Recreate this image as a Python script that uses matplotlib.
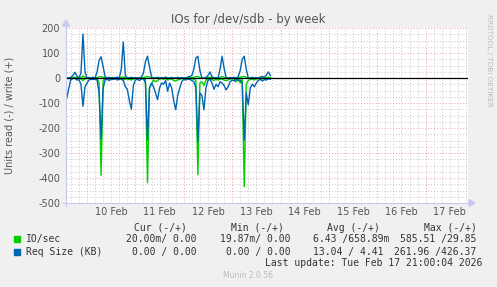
import numpy as np
import pandas as pd
import matplotlib
matplotlib.use("Agg")
import matplotlib.pyplot as plt
import matplotlib.dates as mdates
from matplotlib.lines import Line2D
from matplotlib.patches import Polygon, Rectangle
from datetime import datetime

# hourly samples from 9 Feb 14:00
times = pd.date_range("2026-02-09 14:00", periods=102, freq="1h")

# Req Size (KB) - write (+) and read (-)
req_write = [0, 0, 3, 10, 23, 8, 0, 20, 176, 25, 0, 2, 0, 3, 0, 25, 70, 85, 45, 5,
             0, 3, 0, 2, 0, 4, 0, 35, 144, 12, 0, 0, 3, 0, 2, 0, 0, 4, 20, 65,
             87, 45, 5, 0, 0, 3, 0, 2, 0, 4, 0, 0, 2, 0, 0, 3, 0, 2, 0, 0,
             4, 6, 10, 35, 80, 87, 30, 0, 0, 2, 10, 24, 6, 0, 2, 0, 35, 87, 40, 3,
             0, 2, 0, 3, 0, 5, 30, 75, 87, 35, 0, 0, 3, 0, 2, 0, 4, 6, 3, 12,
             24, 10]
req_read = [80, 40, 5, 3, 0, 8, 7, 25, 113, 35, 20, 8, 5, 6, 4, 8, 60, 245, 40, 8,
            5, 10, 4, 6, 3, 8, 5, 4, 10, 35, 45, 90, 125, 30, 8, 5, 10, 4, 3, 20,
            248, 40, 20, 35, 60, 87, 40, 20, 25, 10, 53, 20, 40, 90, 127, 70, 40, 15, 5, 8,
            4, 6, 10, 15, 40, 255, 60, 70, 127, 40, 10, 5, 20, 45, 25, 35, 15, 20, 30, 48,
            35, 15, 8, 12, 5, 10, 8, 20, 248, 60, 107, 40, 25, 35, 20, 10, 5, 12, 6, 8,
            3, 5]

# IO/sec - write (+) and read (-)
io_write = [0, 0, 1, 2, 3, 1, 0, 2, 8, 3, 0, 1, 0, 1, 0, 2, 4, 6, 3, 1,
            0, 1, 0, 1, 0, 1, 0, 2, 5, 2, 0, 0, 1, 0, 1, 0, 0, 1, 2, 4,
            6, 3, 1, 0, 0, 1, 0, 1, 0, 1, 0, 0, 1, 0, 0, 1, 0, 1, 0, 0,
            1, 1, 2, 3, 5, 6, 2, 0, 0, 1, 2, 3, 1, 0, 1, 0, 3, 6, 3, 1,
            0, 1, 0, 1, 0, 1, 3, 5, 6, 3, 0, 0, 1, 0, 1, 0, 1, 1, 1, 2,
            3, 1]
io_read = [2, 2, 1, 1, 1, 2, 2, 4, 10, 3, 2, 1, 1, 2, 1, 2, 20, 390, 10, 2,
           1, 2, 1, 1, 1, 2, 1, 2, 8, 3, 4, 6, 8, 3, 2, 1, 2, 1, 1, 6,
           419, 40, 25, 8, 15, 10, 4, 3, 4, 2, 8, 3, 5, 10, 12, 8, 5, 2, 1, 2,
           1, 2, 3, 4, 10, 387, 20, 15, 30, 8, 3, 2, 6, 10, 5, 8, 4, 5, 8, 10,
           8, 4, 2, 3, 15, 4, 20, 6, 435, 25, 10, 6, 5, 8, 4, 2, 1, 3, 2, 2,
           1, 1]

day_labels = ["10 Feb", "11 Feb", "12 Feb", "13 Feb", "14 Feb", "15 Feb", "16 Feb", "17 Feb"]
y_ticks = [200, 100, 0, -100, -200, -300, -400, -500]

GREEN = "#00CC00"
BLUE = "#0066B3"
TXT = "#555555"

W, H = 497, 287
fig = plt.figure(figsize=(W / 100, H / 100), dpi=100, facecolor="#F0F0F0")
ax = fig.add_axes([66 / W, 84 / H, 402 / W, 175 / H])
ax.set_facecolor("white")

x0 = mdates.date2num(datetime(2026, 2, 9, 13, 35))
x1 = mdates.date2num(datetime(2026, 2, 17, 21, 0))
ax.set_xlim(x0, x1)
ax.set_ylim(-500, 200)

# grid
for y in range(-500, 201, 25):
    if y % 100 == 0:
        ax.axhline(y, color="#E8A0A0", lw=0.7, ls=(0, (1, 2)), zorder=1)
    else:
        ax.axhline(y, color="#C8C8C8", lw=0.7, ls=(0, (1, 2)), zorder=0.5)
grid_t = pd.date_range("2026-02-09 16:00", "2026-02-17 20:00", freq="4h")
for t in grid_t:
    xv = mdates.date2num(t.to_pydatetime())
    if t.hour == 0:
        ax.axvline(xv, color="#E8A0A0", lw=0.7, ls=(0, (1, 2)), zorder=1)
    else:
        ax.axvline(xv, color="#C8C8C8", lw=0.7, ls=(0, (1, 2)), zorder=0.5)

x = mdates.date2num(times.to_pydatetime())
ax.plot(x, io_write, color=GREEN, lw=1.0, zorder=3)
ax.plot(x, -np.array(io_read), color=GREEN, lw=1.0, zorder=3)
ax.plot(x, req_write, color=BLUE, lw=1.0, zorder=4)
ax.plot(x, -np.array(req_read), color=BLUE, lw=1.0, zorder=4)
ax.axhline(0, color="black", lw=0.9, zorder=5)

noons = [mdates.date2num(datetime(2026, 2, 10 + i, 12)) for i in range(len(day_labels))]
ax.set_xticks(noons)
ax.set_xticklabels(day_labels)
ax.set_yticks(y_ticks)
ax.set_yticklabels([str(v) for v in y_ticks])
ax.tick_params(axis="both", length=0, labelsize=7, labelcolor=TXT)
ax.tick_params(axis="x", pad=3)
ax.tick_params(axis="y", pad=4.3)

for s in ["top", "right", "left", "bottom"]:
    ax.spines[s].set_visible(False)

# axes with arrows (rrdtool style)
ac = "#C8C8F0"
fig.add_artist(Line2D([66 / W, 66 / W], [1 - 206 / H, 1 - 24 / H], color=ac, lw=0.8))
fig.add_artist(Line2D([63 / W, 471 / W], [1 - 203 / H, 1 - 203 / H], color=ac, lw=0.8))
fig.add_artist(Polygon([[62.5 / W, 1 - 26 / H], [69.5 / W, 1 - 26 / H], [66 / W, 1 - 20 / H]],
                       closed=True, color=ac, transform=fig.transFigure))
fig.add_artist(Polygon([[469 / W, 1 - 199.5 / H], [469 / W, 1 - 206.5 / H], [475 / W, 1 - 203 / H]],
                       closed=True, color=ac, transform=fig.transFigure))

fig.text(248 / W, 1 - 19 / H, "IOs for /dev/sdb - by week", ha="center", va="center",
         fontsize=8.5, color=TXT)
fig.text(10 / W, 1 - 115 / H, "Units read (-) / write (+)", rotation=90, ha="center",
         va="center", fontsize=7, color=TXT)
fig.text(489 / W, 1 - 14 / H, "RRDTOOL / TOBI OETIKER", rotation=270, ha="center",
         va="top", fontsize=5.2, color="#BBBBBB")

# legend block
mono = dict(family="DejaVu Sans Mono", fontsize=7, color="#333333", va="center")
fy = lambda py: 1 - py / H
fx = lambda px: px / W
fig.text(fx(187), fy(227.7), "Cur (-/+)", ha="right", **mono)
fig.text(fx(284), fy(227.7), "Min (-/+)", ha="right", **mono)
fig.text(fx(380), fy(227.7), "Avg (-/+)", ha="right", **mono)
fig.text(fx(476.5), fy(227.7), "Max (-/+)", ha="right", **mono)

fig.add_artist(Rectangle((fx(14), fy(242.3)), 6 / W, 6 / H, color=GREEN, transform=fig.transFigure))
fig.add_artist(Rectangle((fx(14), fy(254.7)), 6 / W, 6 / H, color=BLUE, transform=fig.transFigure))
fig.text(fx(26), fy(239.3), "IO/sec", ha="left", **mono)
fig.text(fx(26), fy(251.7), "Req Size (KB)", ha="left", **mono)

fig.text(fx(196.7), fy(239.3), "20.00m/ 0.00", ha="right", **mono)
fig.text(fx(290.7), fy(239.3), "19.87m/ 0.00", ha="right", **mono)
fig.text(fx(389.3), fy(239.3), "6.43 /658.89m", ha="right", **mono)
fig.text(fx(476.7), fy(239.3), "585.51 /29.85", ha="right", **mono)

fig.text(fx(196.7), fy(251.7), "0.00 / 0.00", ha="right", **mono)
fig.text(fx(290.7), fy(251.7), "0.00 / 0.00", ha="right", **mono)
fig.text(fx(383.3), fy(251.7), "13.04 / 4.41", ha="right", **mono)
fig.text(fx(476.7), fy(251.7), "261.96 /426.37", ha="right", **mono)

fig.text(fx(482.3), fy(263.3), "Last update: Tue Feb 17 21:00:04 2026", ha="right", **mono)
fig.text(fx(248), fy(276), "Munin 2.0.56", ha="center", va="center", fontsize=5.5,
         color="#BBBBBB")

fig.savefig("out.png", dpi=100, facecolor=fig.get_facecolor())
